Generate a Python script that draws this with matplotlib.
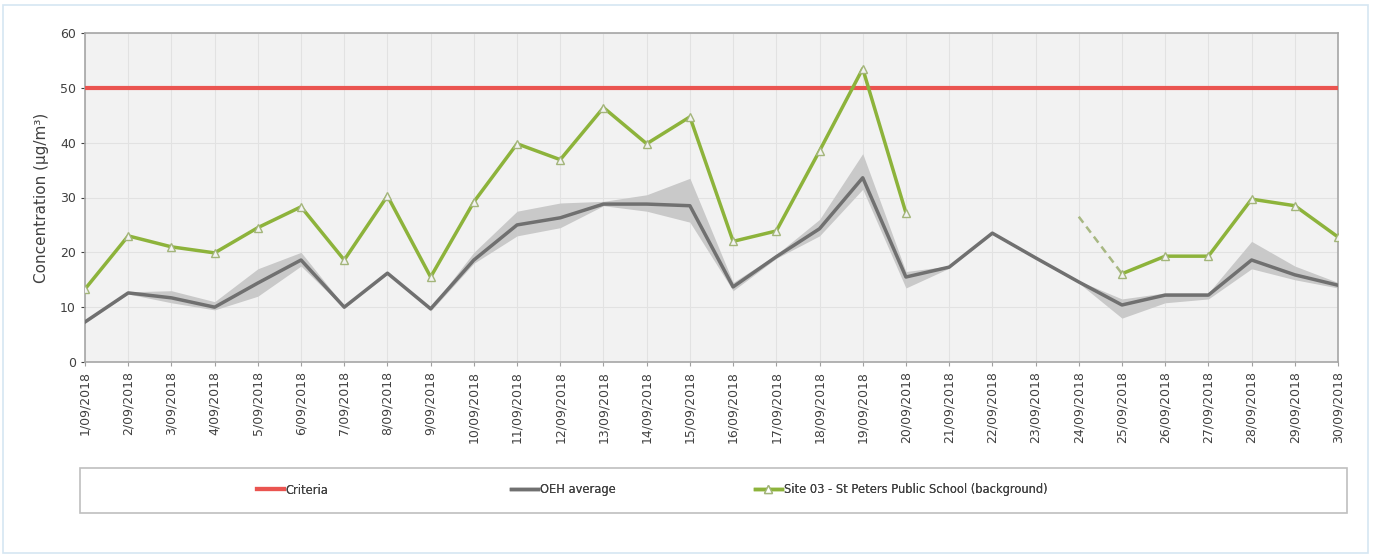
import matplotlib
matplotlib.use("Agg")
import matplotlib.pyplot as plt
import numpy as np
from matplotlib.patches import Rectangle
from matplotlib.lines import Line2D

dates = [f"{d}/09/2018" for d in range(1, 31)]
criteria = 50
oeh_avg = [7.3, 12.6, 11.7, 10.0, 14.4, 18.6, 10.0, 16.2, 9.7, 18.6,
           25.0, 26.3, 28.8, 28.8, 28.5, 13.7, 19.2, 24.3, 33.6, 15.5,
           17.3, 23.5, 19.0, 14.6, 10.4, 12.2, 12.2, 18.6, 15.9, 14.0]
oeh_max = [7.5, 12.8, 13.0, 11.0, 17.0, 20.0, 10.2, 16.5, 9.9, 20.0,
           27.5, 29.0, 29.3, 30.5, 33.5, 14.5, 19.6, 26.0, 38.0, 16.5,
           17.5, 23.7, 19.2, 14.8, 11.5, 12.6, 12.6, 22.0, 17.5, 14.5]
oeh_min = [7.1, 12.4, 10.8, 9.5, 12.0, 17.5, 9.8, 16.0, 9.3, 18.0,
           23.0, 24.5, 28.5, 27.5, 25.5, 13.0, 18.9, 23.0, 31.5, 13.5,
           17.1, 23.3, 18.8, 14.4, 8.0, 10.8, 11.5, 17.0, 15.0, 13.5]
site03 = [13.3, 23.0, 21.0, 19.9, 24.5, 28.3, 18.6, 30.3, 15.5, 29.2,
          39.8, 36.9, 46.4, 39.8, 44.7, 22.0, 23.9, 38.5, 53.5, 27.2,
          None, None, None, None, 16.1, 19.3, 19.3, 29.7, 28.5, 22.8]
site03_est24 = 26.5

fig = plt.figure(figsize=(13.73, 5.57), dpi=100)
fig.patch.set_facecolor("white")
fig.add_artist(Rectangle((3/1373, 4/557), 1365/1373, 548/557, transform=fig.transFigure,
                         fill=False, edgecolor="#d6e6f2", linewidth=1.2))

ax = fig.add_axes([85/1373, 1 - 362/557, (1338 - 85)/1373, (362 - 33)/557])
ax.set_facecolor("#f2f2f2")
x = np.arange(len(dates))

ax.fill_between(x, oeh_min, oeh_max, color="#c9c9c9", linewidth=0, zorder=2)
ax.plot(x, oeh_avg, color="#707070", linewidth=2.5, zorder=3)
ax.axhline(criteria, color="#ea5450", linewidth=3, zorder=3)

s = np.array([np.nan if v is None else v for v in site03], dtype=float)
ax.plot([23, 24], [site03_est24, s[24]], color="#a8b883", linewidth=1.8,
        linestyle=(0, (3, 2)), zorder=4)
ax.plot(x, s, color="#8db33b", linewidth=2.5, marker="^", markersize=5.5,
        markerfacecolor="#f2f2f2", markeredgecolor="#a3b57a", markeredgewidth=1.0, zorder=5)

ax.set_xlim(0, 29)
ax.set_ylim(0, 60)
ax.set_yticks(range(0, 61, 10))
ax.set_xticks(x)
ax.set_xticklabels(dates, rotation=90, fontsize=9, color="#404040")
ax.tick_params(axis="y", labelsize=9, colors="#404040", length=3)
ax.tick_params(axis="x", length=3, colors="#a0a0a0", labelcolor="#404040")
ax.grid(True, color="#e2e2e2", linewidth=0.8, zorder=0)
ax.set_axisbelow(True)
for sp in ax.spines.values():
    sp.set_color("#a6a6a6")
    sp.set_linewidth(1.2)
ax.set_ylabel("Concentration (µg/m³)", fontsize=11, color="#404040", labelpad=8)

fig.add_artist(Rectangle((80/1373, 1 - 513/557), (1347 - 80)/1373, 45/557,
                         transform=fig.transFigure, facecolor="white",
                         edgecolor="#bfbfbf", linewidth=1.2))
h_crit = Line2D([], [], color="#ea5450", linewidth=3)
h_oeh = Line2D([], [], color="#707070", linewidth=2.5)
h_site = Line2D([], [], color="#8db33b", linewidth=2.5, marker="^", markersize=5.5,
                markerfacecolor="white", markeredgecolor="#a3b57a")
ly = 1 - 490/557
for h, lab, lx in [(h_crit, "Criteria", 257), (h_oeh, "OEH average", 511),
                   (h_site, "Site 03 - St Peters Public School (background)", 755)]:
    leg = fig.legend([h], [lab], loc="center left", bbox_to_anchor=(lx/1373, ly),
                     frameon=False, fontsize=8.3, handlelength=2.3, handletextpad=0.2,
                     borderpad=0, borderaxespad=0, labelcolor="#404040")
    fig.add_artist(leg)

fig.savefig("out.png", dpi=100)
